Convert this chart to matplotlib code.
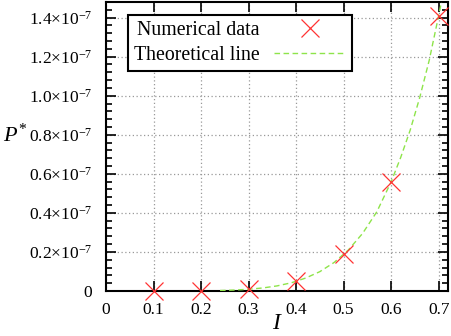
import matplotlib
matplotlib.use("Agg")
import matplotlib.pyplot as plt
from matplotlib.ticker import FuncFormatter, MultipleLocator

plt.rcParams['font.family'] = ['Liberation Serif', 'DejaVu Serif']
plt.rcParams['mathtext.fontset'] = 'custom'
plt.rcParams['mathtext.rm'] = 'Liberation Serif'
plt.rcParams['mathtext.it'] = 'Liberation Serif:italic'

# Numerical data (units of 1e-7)
I_num = [0.1, 0.2, 0.3, 0.4, 0.5, 0.6, 0.7]
P_num = [0.0, 0.0, 0.009, 0.049, 0.19, 0.557, 1.41]

# Theoretical line (units of 1e-7)
I_th = [0.24, 0.27, 0.30, 0.33, 0.36, 0.39, 0.42, 0.45, 0.48, 0.51, 0.54,
        0.57, 0.60, 0.62, 0.64, 0.66, 0.68, 0.70, 0.71]
P_th = [0.0023, 0.0047, 0.0087, 0.0155, 0.026, 0.042, 0.066, 0.099, 0.146, 0.210,
        0.295, 0.406, 0.559, 0.683, 0.823, 0.989, 1.18, 1.41, 1.53]

SCALE = 1e-7

fig = plt.figure(figsize=(4.52, 3.36), dpi=100)
ax = fig.add_axes([0.2345, 0.134, 0.757, 0.86])

ax.plot(I_num, [p * SCALE for p in P_num], linestyle='none',
        marker='x', markersize=12.5, markeredgewidth=0.9, color='#ff3333',
        label='Numerical data', zorder=4, clip_on=False)
ax.plot(I_th, [p * SCALE for p in P_th], linestyle=(0, (4, 2.5)), linewidth=1.0,
        color='#8ee44a', label='Theoretical line', zorder=3)

ax.set_xlim(0, 0.72)
ax.set_ylim(0, 1.48e-7)

ax.xaxis.set_major_locator(MultipleLocator(0.1))
ax.yaxis.set_major_locator(MultipleLocator(0.2e-7))
ax.yaxis.set_minor_locator(MultipleLocator(0.04e-7))

def xfmt(v, pos):
    if abs(v) < 1e-9:
        return '0'
    return '%.1f' % v

def yfmt(v, pos):
    m = v / SCALE
    if abs(m) < 1e-6:
        return '0'
    return '%.1f\u00d710$^{-7}$' % m

ax.xaxis.set_major_formatter(FuncFormatter(xfmt))
ax.yaxis.set_major_formatter(FuncFormatter(yfmt))

ax.tick_params(which='both', direction='in', top=True, right=True, labelsize=12.5,
               width=1.2)
ax.tick_params(which='major', length=7)
ax.tick_params(which='minor', length=4)
ax.xaxis.set_tick_params(which='major', pad=8)
ax.yaxis.set_tick_params(which='major', pad=10)

for s in ax.spines.values():
    s.set_linewidth(1.5)

ax.grid(True, which='major', linestyle=(0, (1, 2)), color='#999999', linewidth=0.9)

ax.set_xlabel(r'$I$', fontsize=17, labelpad=-4)
ax.set_ylabel(r'$P^{*}$', fontsize=16, rotation=0, ha='left', va='center')
ax.yaxis.set_label_coords(-0.302, 0.54)

leg = ax.legend(loc='upper left', bbox_to_anchor=(0.064, 0.955), markerfirst=False,
                fancybox=False, framealpha=1, edgecolor='black', fontsize=14.3,
                borderpad=0.3, handlelength=3.6, labelspacing=0.3, handletextpad=0.75,
                borderaxespad=0)
leg.get_frame().set_linewidth(1.5)

fig.savefig('out.png', dpi=100)
